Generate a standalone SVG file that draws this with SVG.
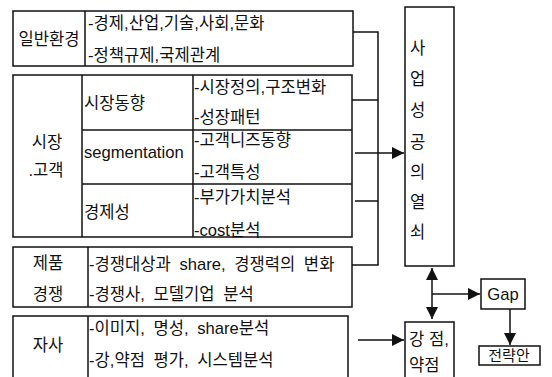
<svg xmlns="http://www.w3.org/2000/svg" width="552" height="377" viewBox="0 0 552 377">
<defs>
<style>
text{font-family:"Liberation Sans","Noto Sans CJK KR",sans-serif;font-size:16.6px;fill:#111;dominant-baseline:central}
.w{word-spacing:4px}
.b{fill:#fff;stroke:#111;stroke-width:1.5}
.l{fill:none;stroke:#111;stroke-width:1.5}
.m{text-anchor:middle}
</style>
<marker id="ah" viewBox="0 0 10 10" refX="10" refY="5" markerWidth="12" markerHeight="12" markerUnits="userSpaceOnUse" orient="auto-start-reverse">
<path d="M0,0 L10,5 L0,10 Z" fill="#111"/>
</marker>
</defs>
<rect width="552" height="377" fill="#fff"/>

<g id="env">
<rect class="b" x="13" y="11" width="340" height="55"/>
<line class="l" x1="85" y1="11" x2="85" y2="66"/>
<text class="m" x="49" y="39">일반환경</text>
<text x="88" y="23">-경제,산업,기술,사회,문화</text>
<text x="88" y="55">-정책규제,국제관계</text>
</g>

<g id="market">
<rect class="b" x="13" y="75" width="339" height="162"/>
<line class="l" x1="82" y1="75" x2="82" y2="237"/>
<line class="l" x1="193" y1="75" x2="193" y2="237"/>
<line class="l" x1="82" y1="130" x2="352" y2="130"/>
<line class="l" x1="82" y1="184" x2="352" y2="184"/>
<text class="m" x="47" y="142">시장</text>
<text class="m" x="46" y="170">.고객</text>
<text x="84" y="103">시장동향</text>
<text x="84" y="152">segmentation</text>
<text x="84" y="212">경제성</text>
<text x="194" y="87">-시장정의,구조변화</text>
<text x="194" y="117">-성장패턴</text>
<text x="194" y="140">-고객니즈동향</text>
<text x="194" y="172">-고객특성</text>
<text x="194" y="197">-부가가치분석</text>
<text x="194" y="230">-cost분석</text>
</g>

<g id="product">
<rect class="b" x="13" y="247" width="339" height="60"/>
<line class="l" x1="88" y1="247" x2="88" y2="307"/>
<text class="m" x="48" y="263">제품</text>
<text class="m" x="48" y="294">경쟁</text>
<text class="w" x="89" y="264">-경쟁대상과 share, 경쟁력의 변화</text>
<text class="w" x="89" y="294">-경쟁사, 모델기업 분석</text>
</g>

<g id="company">
<rect class="b" x="13" y="316" width="335" height="70"/>
<line class="l" x1="88" y1="316" x2="88" y2="377"/>
<text class="m" x="48" y="345">자사</text>
<text class="w" x="89" y="328">-이미지, 명성, share분석</text>
<text class="w" x="89" y="360">-강,약점 평가, 시스템분석</text>
</g>

<g id="key">
<rect class="b" x="405" y="7" width="49" height="259"/>
<text x="410" y="48">사</text>
<text x="410" y="79">업</text>
<text x="410" y="110">성</text>
<text x="410" y="142">공</text>
<text x="410" y="172">의</text>
<text x="410" y="202">열</text>
<text x="410" y="232">쇠</text>
</g>

<g id="sw">
<rect class="b" x="405" y="322" width="49" height="62"/>
<text x="409" y="339">강 점,</text>
<text x="409" y="365">약점</text>
</g>

<g id="gap">
<rect class="b" x="481" y="279" width="44" height="30"/>
<text class="m" x="503" y="294">Gap</text>
</g>

<g id="strategy">
<rect class="b" x="479" y="346" width="61" height="19"/>
<text class="m" x="509" y="355" style="font-size:15px">전략안</text>
</g>

<g id="connectors">
<polyline class="l" points="353,32 378,32 378,265 352,265"/>
<line class="l" x1="352" y1="100" x2="378" y2="100"/>
<line class="l" x1="355" y1="201" x2="378" y2="201"/>
<line class="l" x1="355" y1="153" x2="404" y2="153" marker-end="url(#ah)"/>
<line class="l" x1="358" y1="340" x2="404" y2="340" marker-end="url(#ah)"/>
<line class="l" x1="432" y1="268" x2="432" y2="319" marker-start="url(#ah)" marker-end="url(#ah)"/>
<line class="l" x1="432" y1="294" x2="480" y2="294" marker-end="url(#ah)"/>
<line class="l" x1="510" y1="309" x2="510" y2="345" marker-end="url(#ah)"/>
</g>
</svg>
